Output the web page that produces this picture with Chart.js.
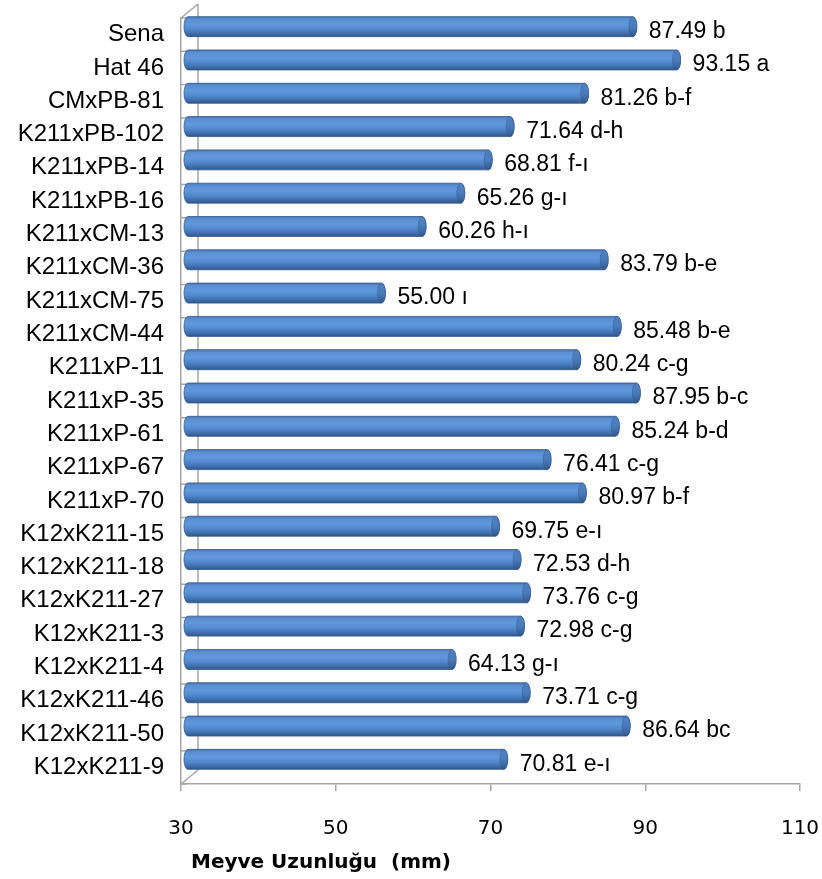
<!DOCTYPE html>
<html>
<head>
<meta charset="utf-8">
<script src="https://cdn.jsdelivr.net/npm/chart.js@4/dist/chart.umd.min.js"></script>
<style>
  html, body { margin: 0; padding: 0; background: #ffffff; }
  #wrap { width: 822px; height: 879px; position: relative; }
</style>
</head>
<body>
<div id="wrap"><canvas id="c" width="822" height="879"></canvas></div>
<script>
// Genotypes, top to bottom
const categories = [
  'Sena', 'Hat 46', 'CMxPB-81', 'K211xPB-102', 'K211xPB-14', 'K211xPB-16',
  'K211xCM-13', 'K211xCM-36', 'K211xCM-75', 'K211xCM-44', 'K211xP-11',
  'K211xP-35', 'K211xP-61', 'K211xP-67', 'K211xP-70', 'K12xK211-15',
  'K12xK211-18', 'K12xK211-27', 'K12xK211-3', 'K12xK211-4', 'K12xK211-46',
  'K12xK211-50', 'K12xK211-9'
];

// Mean fruit length (mm)
const values = [
  87.49, 93.15, 81.26, 71.64, 68.81, 65.26,
  60.26, 83.79, 55.00, 85.48, 80.24,
  87.95, 85.24, 76.41, 80.97, 69.75,
  72.53, 73.76, 72.98, 64.13, 73.71,
  86.64, 70.81
];

// Significance groups printed after each mean
const groups = [
  'b', 'a', 'b-f', 'd-h', 'f-ı', 'g-ı',
  'h-ı', 'b-e', 'ı', 'b-e', 'c-g',
  'b-c', 'b-d', 'c-g', 'b-f', 'e-ı',
  'd-h', 'c-g', 'c-g', 'g-ı', 'c-g',
  'bc', 'e-ı'
];

const xTicks = [30, 50, 70, 90, 110];
const axisTitle = 'Meyve Uzunluğu  (mm)';

const FRAME = '#a6a6a6';
const DEPTH_X = 17, DEPTH_Y = -14;   // back wall offset of the 3-D frame
const BAR_DX = 7, BAR_DY = -8;       // bars sit half way into the depth

// Back wall, side wall edges and category ticks of the 3-D frame
const framePlugin = {
  id: 'frame3d',
  beforeDatasetsDraw(chart) {
    const { ctx, chartArea: a } = chart;
    ctx.save();
    ctx.strokeStyle = FRAME;
    ctx.lineWidth = 1.5;
    ctx.beginPath();
    // back wall left edge
    ctx.moveTo(a.left + DEPTH_X, a.top + DEPTH_Y);
    ctx.lineTo(a.left + DEPTH_X, a.bottom + DEPTH_Y);
    // top and bottom side-wall diagonals
    ctx.moveTo(a.left, a.top);
    ctx.lineTo(a.left + DEPTH_X, a.top + DEPTH_Y);
    ctx.moveTo(a.left, a.bottom);
    ctx.lineTo(a.left + DEPTH_X, a.bottom + DEPTH_Y);
    // category boundary ticks
    const n = categories.length;
    const step = (a.bottom - a.top) / n;
    for (let i = 0; i <= n; i++) {
      const y = a.top + i * step;
      ctx.moveTo(a.left, y);
      ctx.lineTo(a.left + 6, y);
    }
    ctx.stroke();
    ctx.restore();
  }
};

function drawCylinder(ctx, x0, x1, yc, h) {
  const r = h / 2, rx = 4;
  const g = ctx.createLinearGradient(0, yc - r, 0, yc + r);
  g.addColorStop(0.00, '#4776b2');
  g.addColorStop(0.12, '#5a8ed0');
  g.addColorStop(0.38, '#6098dd');
  g.addColorStop(0.62, '#5289cc');
  g.addColorStop(0.85, '#3f6dab');
  g.addColorStop(1.00, '#2e5889');
  ctx.beginPath();
  ctx.moveTo(x0, yc - r);
  ctx.lineTo(x1, yc - r);
  ctx.ellipse(x1, yc, rx, r, 0, -Math.PI / 2, Math.PI / 2);
  ctx.lineTo(x0, yc + r);
  ctx.ellipse(x0, yc, rx, r, 0, Math.PI / 2, Math.PI * 1.5);
  ctx.closePath();
  ctx.fillStyle = g;
  ctx.fill();
  ctx.strokeStyle = 'rgba(52,88,140,0.8)';
  ctx.lineWidth = 1;
  ctx.stroke();
  // visible end face
  const cg = ctx.createLinearGradient(0, yc - r, 0, yc + r);
  cg.addColorStop(0, '#4f82c2');
  cg.addColorStop(0.5, '#4a7cbb');
  cg.addColorStop(1, '#30598c');
  ctx.beginPath();
  ctx.ellipse(x1, yc, rx, r, 0, 0, Math.PI * 2);
  ctx.fillStyle = cg;
  ctx.fill();
  ctx.strokeStyle = 'rgba(46,80,130,0.4)';
  ctx.stroke();
}

// Cylinder bars and their value labels
const cylinderPlugin = {
  id: 'cylinders',
  afterDatasetsDraw(chart) {
    const { ctx } = chart;
    const xs = chart.scales.x;
    const basePx = xs.getPixelForValue(xs.min);
    const meta = chart.getDatasetMeta(0);
    ctx.save();
    meta.data.forEach((el, i) => {
      const p = el.getProps(['y', 'height'], true);
      const endPx = xs.getPixelForValue(values[i]);
      drawCylinder(ctx, basePx + BAR_DX, endPx + BAR_DX, p.y + BAR_DY, p.height);
    });
    ctx.fillStyle = '#000';
    ctx.font = '23px "Liberation Sans", Arial, sans-serif';
    ctx.textAlign = 'left';
    ctx.textBaseline = 'middle';
    meta.data.forEach((el, i) => {
      const p = el.getProps(['y'], true);
      const endPx = xs.getPixelForValue(values[i]);
      ctx.fillText(values[i].toFixed(2) + ' ' + groups[i], endPx + 23, p.y - 3);
    });
    ctx.restore();
  },
  afterDraw(chart) {
    const { ctx } = chart;
    ctx.save();
    ctx.fillStyle = '#000';
    ctx.font = 'bold 20px "DejaVu Sans", Verdana, sans-serif';
    ctx.textAlign = 'left';
    ctx.textBaseline = 'alphabetic';
    ctx.fillText(axisTitle, 191, 868);
    ctx.restore();
  }
};

new Chart(document.getElementById('c'), {
  type: 'bar',
  data: {
    labels: categories,
    datasets: [{
      data: values,
      backgroundColor: 'rgba(0,0,0,0)',
      borderWidth: 0,
      barPercentage: 0.6,
      categoryPercentage: 1.0
    }]
  },
  options: {
    indexAxis: 'y',
    responsive: false,
    animation: false,
    layout: { padding: { top: 18, right: 22, left: 0, bottom: 0 } },
    plugins: {
      legend: { display: false },
      tooltip: { enabled: false }
    },
    scales: {
      x: {
        min: 30,
        max: 110,
        afterBuildTicks(scale) {
          scale.ticks = xTicks.map(v => ({ value: v }));
        },
        grid: { drawOnChartArea: false, drawTicks: true, tickLength: 7, color: FRAME, lineWidth: 1.5 },
        border: { display: true, color: FRAME, width: 1.5 },
        ticks: {
          font: { family: '"DejaVu Sans", sans-serif', size: 20 },
          color: '#000',
          padding: 26,
          maxRotation: 0
        },
        afterFit(scale) {
          scale.height = 95;
          scale.paddingLeft = 0;
          scale.paddingRight = 0;
        }
      },
      y: {
        grid: { display: false, drawTicks: false },
        border: { display: true, color: FRAME, width: 1.5 },
        ticks: {
          font: { family: '"Liberation Sans", Arial, sans-serif', size: 24 },
          color: '#000',
          padding: 17,
          autoSkip: false
        },
        afterFit(scale) {
          scale.width = 181;
          scale.paddingTop = 0;
          scale.paddingBottom = 0;
        }
      }
    }
  },
  plugins: [framePlugin, cylinderPlugin]
});
</script>
</body>
</html>
